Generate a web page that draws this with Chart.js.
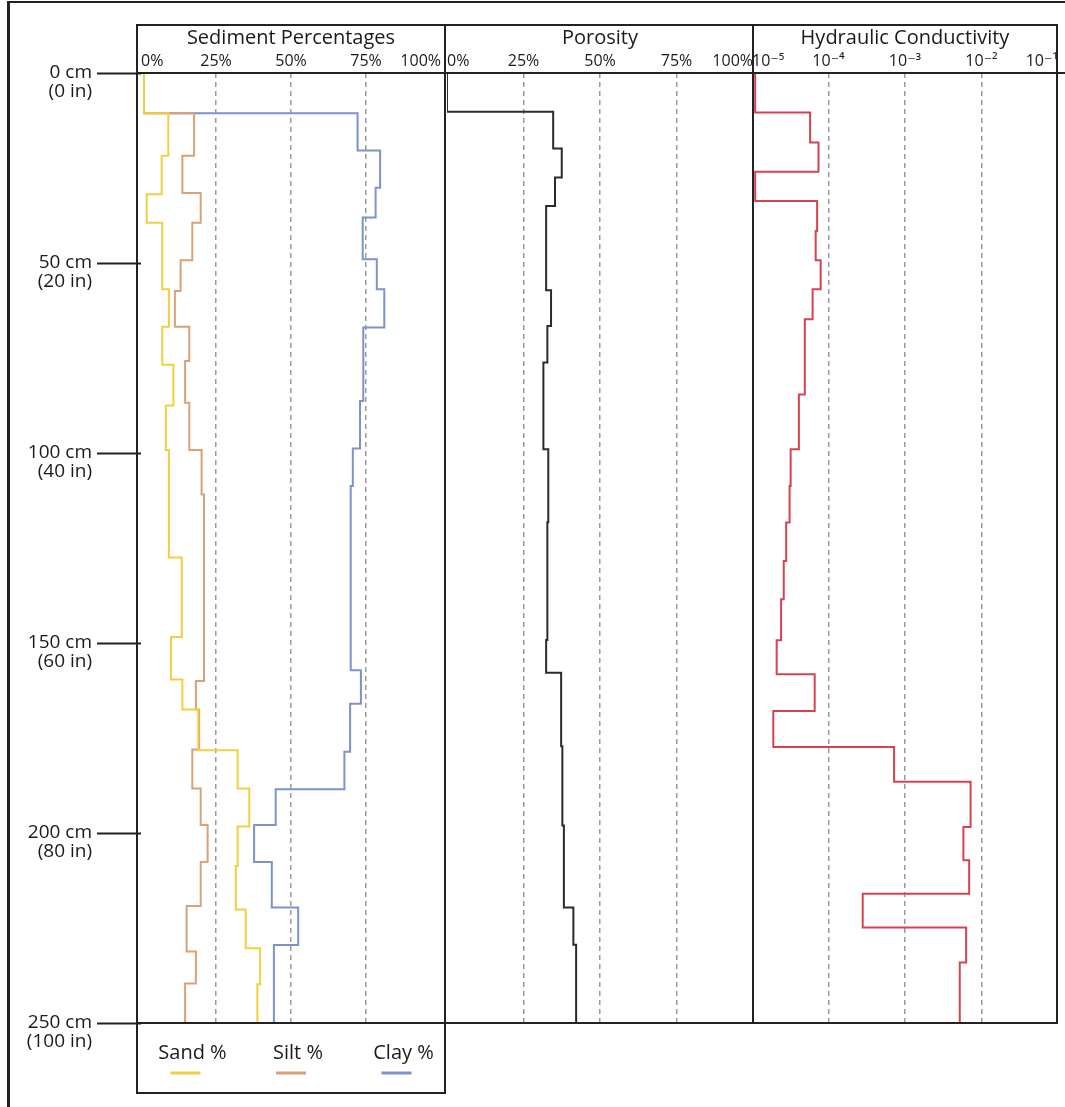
<!DOCTYPE html>
<html>
<head>
<meta charset="utf-8">
<title>Sediment, porosity and hydraulic conductivity profile</title>
<script src="https://cdn.jsdelivr.net/npm/chart.js@4.4.1/dist/chart.umd.min.js"></script>
<style>
  body { margin: 0; background: #fff; }
  #wrap { position: relative; width: 1065px; height: 1107px; overflow: hidden; background: #fff; }
  #wrap canvas { position: absolute; top: 0; }
  #outline { position: absolute; left: 7px; top: 1px; width: 1058px; height: 1106px;
             border-left: 3px solid #222; border-top: 2px solid #222; box-sizing: border-box; }
</style>
</head>
<body>
<div id="wrap">
  <div id="outline"></div>
  <canvas id="sediment" style="left:0px;width:450px;height:1107px" width="450" height="1107"></canvas>
  <canvas id="porosity" style="left:440px;width:318px;height:1107px" width="318" height="1107"></canvas>
  <canvas id="hydraulic" style="left:748px;width:317px;height:1107px" width="317" height="1107"></canvas>
</div>
<script>
// depth (cm) where each layer starts, and the value of that layer
const sandDepth = [0, 10.6, 21.8, 31.9, 39.4, 56.9, 66.8, 76.8, 87.5, 99.2, 127.5, 148.4, 159.6, 167.5, 178.2, 188.3, 198.3, 208.7, 220.1, 230.3, 239.8];
const sandPct   = [1, 9.1, 6.9, 1.9, 7.1, 9.3, 7.1, 10.8, 8.3, 9.3, 13.6, 10, 13.8, 19.1, 32.2, 36.1, 32.2, 31.6, 34.9, 39.7, 38.8];

const siltDepth = [0, 10.6, 21.8, 31.6, 39.4, 49.3, 57.4, 66.8, 75.8, 86.8, 99.2, 110.9, 160, 167.5, 178, 188.3, 197.9, 207.6, 219.2, 231.2, 239.6];
const siltPct   = [1, 17.7, 13.8, 19.9, 17.1, 13.2, 11.3, 16.1, 14.7, 16.1, 20.2, 21, 18.3, 19.4, 17.1, 19.9, 22.2, 19.9, 15.2, 18.3, 14.7];

const clayDepth = [0, 10.6, 20.4, 30.2, 38, 49, 56.9, 67, 86.3, 98.8, 108.7, 157.2, 166, 178.6, 188.5, 197.9, 207.6, 219.6, 229.5];
const clayPct   = [1, 72.2, 79.7, 78.2, 73.9, 78.6, 81.1, 74.1, 73, 70.6, 69.9, 73.3, 69.7, 67.8, 44.9, 37.7, 43.6, 52.4, 44.3];

const porDepth = [0, 10.2, 19.9, 27.5, 35, 57.2, 66.6, 76.2, 99, 118.2, 149.2, 157.8, 177.2, 198, 219.6, 229.4];
const porPct   = [0, 34.7, 37.5, 35.3, 32.4, 34, 32.8, 31.5, 33.1, 32.8, 32.4, 37.3, 37.7, 38.2, 41.3, 42.2];

const kDepth = [0, 10.4, 18.3, 26, 33.7, 41.6, 49.3, 56.9, 64.8, 84.6, 99, 108.7, 118.3, 128.4, 138.5, 149.3, 158.2, 167.9, 177.4, 186.5, 198.4, 207.2, 216, 224.9, 234.1];
const kValue = [1.1e-5, 5.75e-5, 7.4e-5, 1.1e-5, 7.1e-5, 6.8e-5, 7.9e-5, 6.2e-5, 4.9e-5, 4.1e-5, 3.2e-5, 3.1e-5, 2.8e-5, 2.6e-5, 2.4e-5, 2.1e-5, 6.6e-5, 1.9e-5, 7.2e-4, 7.2e-3, 5.8e-3, 6.9e-3, 2.8e-4, 6.3e-3, 5.2e-3];

const maxDepth = 250;
const depthTicks = [0, 50, 100, 150, 200, 250];
const depthLabels = [['0 cm', '(0 in)'], ['50 cm', '(20 in)'], ['100 cm', '(40 in)'], ['150 cm', '(60 in)'], ['200 cm', '(80 in)'], ['250 cm', '(100 in)']];
const pctTicks = [0, 25, 50, 75, 100];
const pctLabels = ['0%', '25%', '50%', '75%', '100%'];
const kTicks = [1e-5, 1e-4, 1e-3, 1e-2, 1e-1];
const kLabels = ['10\u207B\u2075', '10\u207B\u2074', '10\u207B\u00B3', '10\u207B\u00B2', '10\u207B\u00B9'];

Chart.defaults.font.family = "'Open Sans', 'DejaVu Sans', sans-serif";
Chart.defaults.color = '#1a1a1a';

// layer tops -> points for a stepped line (plus the bottom of the profile)
function profile(depths, values) {
    const pts = depths.map((d, i) => ({ x: values[i], y: d }));
    pts.push({ x: values[values.length - 1], y: maxDepth });
    return pts;
}

const panelFrame = {
    id: 'panelFrame',
    afterDraw(chart, args, opts) {
        const { ctx, chartArea } = chart;
        ctx.save();
        ctx.strokeStyle = '#222';
        ctx.lineWidth = 2;
        ctx.strokeRect(opts.left, 25, opts.right - opts.left, opts.bottom - 25);
        ctx.beginPath();
        ctx.moveTo(opts.left, chartArea.top);
        ctx.lineTo(opts.axisEnd, chartArea.top);
        ctx.moveTo(opts.left, chartArea.bottom);
        ctx.lineTo(opts.right, chartArea.bottom);
        ctx.stroke();
        ctx.restore();
    }
};

// legend with the name above a short line
const stackedLegend = {
    id: 'stackedLegend',
    afterDraw(chart, args, opts) {
        const ctx = chart.ctx;
        const sets = chart.data.datasets;
        ctx.save();
        ctx.font = "20px 'Open Sans', sans-serif";
        ctx.textAlign = 'center';
        ctx.textBaseline = 'middle';
        sets.forEach((ds, i) => {
            const cx = opts.center + (i - (sets.length - 1) / 2) * opts.spacing;
            ctx.fillStyle = '#1a1a1a';
            ctx.fillText(ds.label, cx, opts.textY);
            ctx.strokeStyle = ds.borderColor;
            ctx.lineWidth = 3;
            ctx.beginPath();
            ctx.moveTo(cx - 22, opts.lineY);
            ctx.lineTo(cx + 8, opts.lineY);
            ctx.stroke();
        });
        ctx.restore();
    }
};

function dashedGrid(lo, hi) {
    return {
        drawTicks: false,
        lineWidth: 1.5,
        color: ctx => (ctx.tick && ctx.tick.value > lo && ctx.tick.value < hi) ? '#9a9a9a' : 'rgba(0,0,0,0)'
    };
}

function topAxis(title, ticks, labels, extra) {
    return Object.assign({
        position: 'top',
        afterBuildTicks: s => { s.ticks = ticks.map(v => ({ value: v })); },
        afterFit: s => { s.height = 73; s.paddingLeft = 0; s.paddingRight = 0; },
        ticks: {
            align: 'inner', maxRotation: 0, autoSkip: false, padding: 2,
            font: { size: 16 }, color: '#1a1a1a',
            callback: v => labels[ticks.indexOf(v)]
        },
        border: { display: false, dash: [5, 4] },
        title: { display: true, text: title, font: { size: 20 }, color: '#1a1a1a', padding: { top: 26, bottom: 0 } }
    }, extra);
}

const hiddenDepth = { type: 'linear', display: false, reverse: true, min: 0, max: maxDepth };

const baseOptions = {
    responsive: false,
    animation: false,
    indexAxis: 'y',
    elements: { point: { radius: 0 }, line: { borderWidth: 2, stepped: 'after' } },
    plugins: { legend: { display: false }, tooltip: { enabled: false } }
};

new Chart(document.getElementById('sediment'), {
    type: 'line',
    data: {
        datasets: [
            { label: 'Sand %', data: profile(sandDepth, sandPct), borderColor: '#f2cf3f' },
            { label: 'Silt %', data: profile(siltDepth, siltPct), borderColor: '#d9a178' },
            { label: 'Clay %', data: profile(clayDepth, clayPct), borderColor: '#7b93c9' }
        ]
    },
    options: Object.assign({}, baseOptions, {
        layout: { padding: { left: 0, right: 9, top: 0, bottom: 84 } },
        scales: {
            x: topAxis('Sediment Percentages', pctTicks, pctLabels, { type: 'linear', min: 0, max: 100, grid: dashedGrid(0, 100) }),
            y: {
                type: 'linear', reverse: true, min: 0, max: maxDepth,
                afterBuildTicks: s => { s.ticks = depthTicks.map(v => ({ value: v })); },
                afterFit: s => { s.width = 141; s.paddingTop = 0; s.paddingBottom = 0; },
                ticks: {
                    padding: 5, labelOffset: 9.5, color: '#1a1a1a',
                    font: { size: 19, lineHeight: 1.0 },
                    callback: v => depthLabels[depthTicks.indexOf(v)]
                },
                grid: { drawOnChartArea: false, drawTicks: true, tickLength: 44, tickWidth: 2, tickColor: '#222' },
                border: { display: false }
            }
        },
        plugins: Object.assign({}, baseOptions.plugins, {
            panelFrame: { left: 137, right: 445, bottom: 1093, axisEnd: 450 },
            stackedLegend: { center: 298, spacing: 105.5, textY: 1053, lineY: 1073 }
        })
    }),
    plugins: [panelFrame, stackedLegend]
});

new Chart(document.getElementById('porosity'), {
    type: 'line',
    data: {
        datasets: [{ label: 'Porosity', data: profile(porDepth, porPct), borderColor: '#2b2b2b' }]
    },
    options: Object.assign({}, baseOptions, {
        layout: { padding: { left: 7, right: 5, top: 0, bottom: 84 } },
        scales: {
            x: topAxis('Porosity', pctTicks, pctLabels, { type: 'linear', min: 0, max: 100, grid: dashedGrid(0, 100) }),
            y: hiddenDepth
        },
        plugins: Object.assign({}, baseOptions.plugins, {
            panelFrame: { left: 5, right: 313, bottom: 1023, axisEnd: 318 }
        })
    }),
    plugins: [panelFrame]
});

new Chart(document.getElementById('hydraulic'), {
    type: 'line',
    data: {
        datasets: [{ label: 'Hydraulic Conductivity', data: profile(kDepth, kValue), borderColor: '#d4434f' }]
    },
    options: Object.assign({}, baseOptions, {
        layout: { padding: { left: 4, right: 7, top: 0, bottom: 84 } },
        scales: {
            x: topAxis('Hydraulic Conductivity', kTicks, kLabels, { type: 'logarithmic', min: 1e-5, max: 1e-1, grid: dashedGrid(1e-5, 1e-1) }),
            y: hiddenDepth
        },
        plugins: Object.assign({}, baseOptions.plugins, {
            panelFrame: { left: 5, right: 309, bottom: 1023, axisEnd: 317 }
        })
    }),
    plugins: [panelFrame]
});
</script>
</body>
</html>
